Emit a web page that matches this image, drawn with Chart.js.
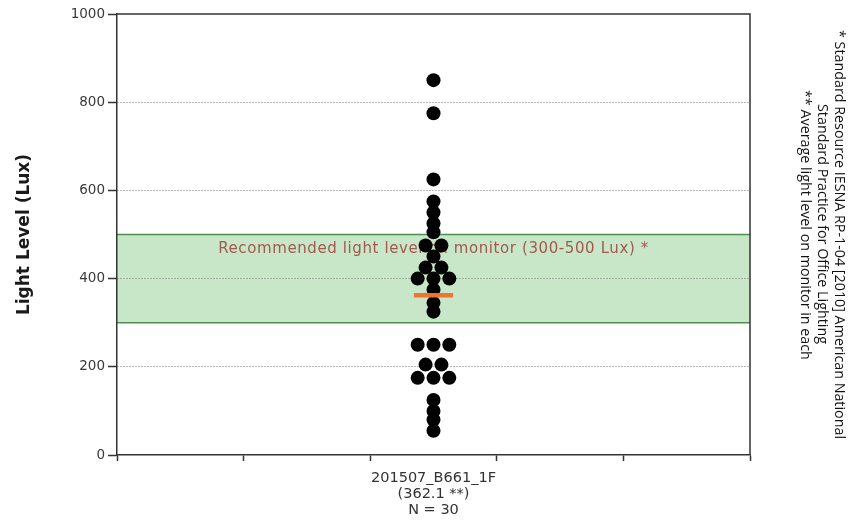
<!DOCTYPE html>
<html><head><meta charset="utf-8">
<script src="https://cdn.jsdelivr.net/npm/chart.js@4/dist/chart.umd.min.js"></script>
<style>html,body{margin:0;padding:0;background:#fff}</style>
</head><body>
<canvas id="c" width="866" height="529"></canvas>
<script>
// ---- data ----
const categoryLabel = ['201507_B661_1F', '(362.1 **)', 'N = 30'];
const lightValues = [850, 775, 625, 575, 550, 525, 505, 475, 475, 450, 425, 425, 400, 400, 400, 375, 345, 325, 250, 250, 250, 205, 205, 175, 175, 175, 125, 100, 80, 55];
const meanValue = 362.1;
const yTicks = [0, 200, 400, 600, 800, 1000];
const xTicks = [0, 1, 2, 3, 4, 5];
const categoryPos = 2.5;
const bandRange = [300, 500];
const bandLabel = 'Recommended light level on monitor (300-500 Lux) *';
const yTitle = 'Light Level (Lux)';
const footnotes = ['* Standard Resource IESNA RP-1-04 [2010] American National', 'Standard Practice for Office Lighting', '** Average light level on monitor in each'];

// ---- dot-plot layout: equal values spread side by side ----
const spread = 0.125;
const counts = {};
lightValues.forEach(v => { counts[v] = (counts[v] || 0) + 1; });
const seen = {};
const dotPoints = lightValues.map(v => {
  seen[v] = (seen[v] === undefined) ? 0 : seen[v] + 1;
  return { x: categoryPos + (seen[v] - (counts[v] - 1) / 2) * spread, y: v };
});
const meanHalf = 0.155;

const deco = {
  id: 'deco',
  beforeDraw(chart) {
    const { ctx, chartArea: a, scales: { x, y } } = chart;
    const yt = y.getPixelForValue(bandRange[1]);
    const yb = y.getPixelForValue(bandRange[0]);
    ctx.save();
    ctx.fillStyle = '#c8e6c8';
    ctx.fillRect(a.left, yt, a.right - a.left, yb - yt);
    ctx.strokeStyle = '#4e8e50';
    ctx.lineWidth = 1.6;
    ctx.beginPath();
    ctx.moveTo(a.left, yt); ctx.lineTo(a.right, yt);
    ctx.moveTo(a.left, yb); ctx.lineTo(a.right, yb);
    ctx.stroke();
    ctx.fillStyle = '#a3594f';
    ctx.font = '15px "DejaVu Sans"';
    ctx.letterSpacing = '0.6px';
    ctx.textAlign = 'center';
    ctx.textBaseline = 'middle';
    ctx.fillText(bandLabel, x.getPixelForValue(categoryPos), y.getPixelForValue(468));
    ctx.restore();
  },
  beforeDatasetsDraw(chart) {
    const { ctx, chartArea: a } = chart;
    ctx.save();
    ctx.strokeStyle = '#333';
    ctx.lineWidth = 1.5;
    ctx.beginPath();
    ctx.moveTo(a.left, a.top); ctx.lineTo(a.right, a.top); ctx.lineTo(a.right, a.bottom);
    ctx.stroke();
    ctx.restore();
  },
  afterDraw(chart) {
    const { ctx } = chart;
    const pos = [[839, 30], [822, 104], [805, 90]];
    ctx.save();
    ctx.fillStyle = '#111';
    ctx.font = '14.3px "Open Sans"';
    ctx.textAlign = 'left';
    ctx.textBaseline = 'middle';
    footnotes.forEach((t, i) => {
      ctx.save();
      ctx.translate(pos[i][0], pos[i][1]);
      ctx.rotate(Math.PI / 2);
      ctx.fillText(t, 0, 0);
      ctx.restore();
    });
    ctx.restore();
  }
};

new Chart(document.getElementById('c'), {
  type: 'scatter',
  data: {
    datasets: [
      {
        type: 'line',
        data: [{ x: categoryPos - meanHalf, y: meanValue }, { x: categoryPos + meanHalf, y: meanValue }],
        borderColor: '#f0742e',
        borderWidth: 4.5,
        pointRadius: 0,
        fill: false
      },
      {
        data: dotPoints,
        pointRadius: 7,
        pointHoverRadius: 7,
        backgroundColor: '#000',
        borderWidth: 0
      }
    ]
  },
  options: {
    responsive: false,
    animation: false,
    events: [],
    layout: { padding: { left: 0, right: 116, top: 14, bottom: 0 } },
    plugins: { legend: { display: false }, tooltip: { enabled: false } },
    scales: {
      x: {
        type: 'linear', min: 0, max: 5,
        afterBuildTicks: s => { s.ticks = [...xTicks, categoryPos].sort((a, b) => a - b).map(v => ({ value: v })); },
        afterFit: s => { s.height = 74; },
        grid: {
          drawOnChartArea: false, tickLength: 6, tickWidth: 1.5, tickBorderDash: [],
          tickColor: c => (c.tick && c.tick.value === categoryPos) ? 'rgba(0,0,0,0)' : '#333'
        },
        border: { color: '#333', width: 1.5 },
        ticks: {
          autoSkip: false, maxRotation: 0, color: '#333', padding: 9,
          font: { family: 'DejaVu Sans', size: 14.5, lineHeight: 1.1 },
          callback: v => v === categoryPos ? categoryLabel : ''
        }
      },
      y: {
        min: 0, max: 1000,
        afterBuildTicks: s => { s.ticks = yTicks.map(v => ({ value: v })); },
        afterFit: s => { s.width = 117; },
        grid: {
          lineWidth: 1, tickLength: 9, tickWidth: 1.5, tickColor: '#333', tickBorderDash: [],
          color: c => (c.tick && (c.tick.value === 0 || c.tick.value === 1000)) ? 'rgba(0,0,0,0)' : '#777'
        },
        border: { color: '#333', width: 1.5, dash: [1, 2] },
        ticks: { color: '#3a3a3a', padding: 3, font: { family: 'DejaVu Sans', size: 13.5 }, callback: v => String(v) },
        title: {
          display: true, text: yTitle, color: '#1a1a1a',
          font: { family: 'DejaVu Sans', size: 17, weight: 'bold' },
          padding: { top: 14, bottom: 0 }
        }
      }
    }
  },
  plugins: [deco]
});
</script>
</body></html>
